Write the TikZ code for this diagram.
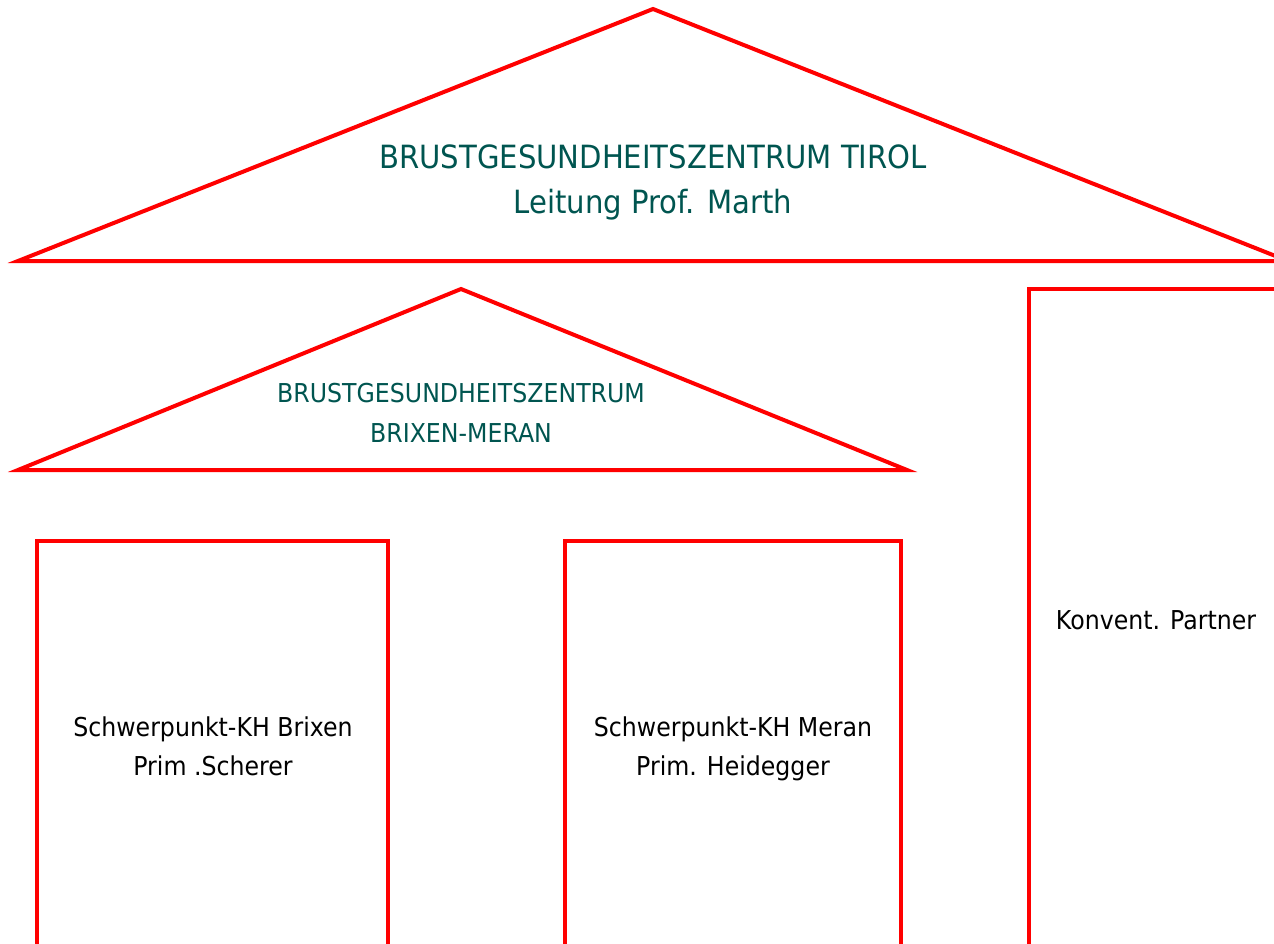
\documentclass[tikz,border=0pt]{standalone}
\usepackage{fontspec}
\setmainfont[FakeStretch=0.91]{DejaVu Sans}
\definecolor{frame}{RGB}{255,0,0}
\definecolor{teal}{RGB}{0,85,80}
\tikzset{
  redline/.style={draw=frame, line width=4pt, line join=miter},
  title/.style={text=teal, anchor=base, inner sep=0pt},
  body/.style={text=black, anchor=base, inner sep=0pt, font=\fontsize{26}{30}\selectfont},
}
\begin{document}
\begin{tikzpicture}[x=1pt,y=-1pt]
\useasboundingbox (0,0) rectangle (1274,944);
\clip (0,0) rectangle (1274,944);
\draw[redline] (653,9) -- (1288,261) -- (18,261) -- cycle;
\draw[redline] (461,289) -- (907,470) -- (18,470) -- cycle;
\draw[redline] (37,960) -- (37,541) -- (388,541) -- (388,960);
\draw[redline] (565,960) -- (565,541) -- (901,541) -- (901,960);
\draw[redline] (1029,960) -- (1029,289) -- (1300,289);
\node[title, font=\fontsize{32}{36}\selectfont] (t1) at (653,169) {BRUSTGESUNDHEITSZENTRUM TIROL};
\node[title, font=\fontsize{32}{36}\selectfont] (t2) at (653,214) {Leitung Prof. Marth};
\node[title, font=\fontsize{26}{30}\selectfont] (s1) at (461,402) {BRUSTGESUNDHEITSZENTRUM};
\node[title, font=\fontsize{26}{30}\selectfont] (s2) at (461,442) {BRIXEN-MERAN};
\node[body] (b1) at (213,736) {Schwerpunkt-KH Brixen};
\node[body] (b2) at (213,775) {Prim .Scherer};
\node[body] (m1) at (733,736) {Schwerpunkt-KH Meran};
\node[body] (m2) at (733,775) {Prim. Heidegger};
\node[body] (k1) at (1156,629) {Konvent. Partner};
\end{tikzpicture}
\end{document}
